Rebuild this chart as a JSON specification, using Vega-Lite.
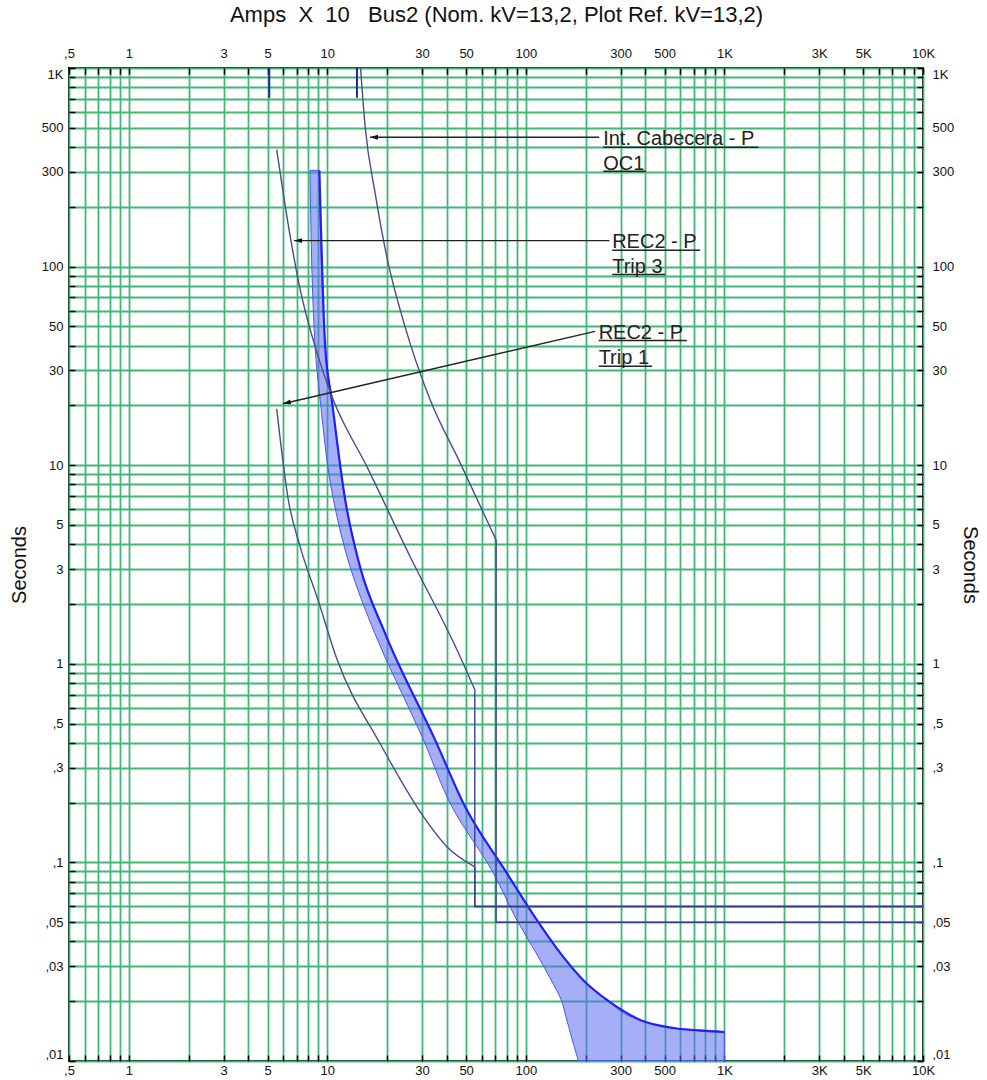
{
  "$schema": "https://vega.github.io/schema/vega-lite/v6.json",
  "width": 854,
  "height": 993,
  "autosize": {"type": "none"},
  "padding": {"left": 69, "top": 68, "right": 64, "bottom": 19},
  "background": "white",
  "config": {"view": {"stroke": "#000", "strokeWidth": 2}, "font": "Liberation Sans"},
  "datasets": {
    "band": [
      {"sec": 305, "lo": 8.18, "hi": 9.12},
      {"sec": 39.7, "lo": 8.67, "hi": 9.75},
      {"sec": 21.4, "lo": 9.2, "hi": 10.53},
      {"sec": 6.7, "lo": 10.73, "hi": 12.3},
      {"sec": 3.09, "lo": 13.0, "hi": 14.6},
      {"sec": 1.43, "lo": 17.3, "hi": 19.5},
      {"sec": 0.414, "lo": 30.5, "hi": 34.9},
      {"sec": 0.191, "lo": 42.4, "hi": 49.4},
      {"sec": 0.0883, "lo": 68.6, "hi": 80.2},
      {"sec": 0.0513, "lo": 90, "hi": 113.5},
      {"sec": 0.035, "lo": 112.6, "hi": 148.8},
      {"sec": 0.0256, "lo": 134, "hi": 194},
      {"sec": 0.0203, "lo": 150.7, "hi": 256},
      {"sec": 0.0161, "lo": 160.7, "hi": 376},
      {"sec": 0.01466, "lo": 165, "hi": 554},
      {"sec": 0.014, "lo": 167, "hi": 1000},
      {"sec": 0.01, "lo": 184, "hi": 1000}
    ],
    "curves": [
      {"series": "OC1", "i": 1, "amps": 14.7, "sec": 1000},
      {"series": "OC1", "i": 2, "amps": 15.5, "sec": 509},
      {"series": "OC1", "i": 3, "amps": 17.4, "sec": 235},
      {"series": "OC1", "i": 4, "amps": 19.9, "sec": 113},
      {"series": "OC1", "i": 5, "amps": 24.6, "sec": 50},
      {"series": "OC1", "i": 6, "amps": 32.9, "sec": 21.4},
      {"series": "OC1", "i": 7, "amps": 46.6, "sec": 10.3},
      {"series": "OC1", "i": 8, "amps": 70.8, "sec": 4.2},
      {"series": "Trip 3", "i": 1, "amps": 5.56, "sec": 388},
      {"series": "Trip 3", "i": 2, "amps": 6.54, "sec": 137},
      {"series": "Trip 3", "i": 3, "amps": 7.29, "sec": 77},
      {"series": "Trip 3", "i": 4, "amps": 8.67, "sec": 39.7},
      {"series": "Trip 3", "i": 5, "amps": 10.7, "sec": 21.4},
      {"series": "Trip 3", "i": 6, "amps": 15.8, "sec": 9.86},
      {"series": "Trip 3", "i": 7, "amps": 26.1, "sec": 3.47},
      {"series": "Trip 3", "i": 8, "amps": 44.9, "sec": 1.18},
      {"series": "Trip 3", "i": 9, "amps": 55.3, "sec": 0.74},
      {"series": "Trip 1", "i": 1, "amps": 5.56, "sec": 19.2},
      {"series": "Trip 1", "i": 2, "amps": 6.36, "sec": 6.7},
      {"series": "Trip 1", "i": 3, "amps": 7.29, "sec": 3.9},
      {"series": "Trip 1", "i": 4, "amps": 8.97, "sec": 2.1},
      {"series": "Trip 1", "i": 5, "amps": 11.2, "sec": 1.05},
      {"series": "Trip 1", "i": 6, "amps": 18.4, "sec": 0.398},
      {"series": "Trip 1", "i": 7, "amps": 30.5, "sec": 0.17},
      {"series": "Trip 1", "i": 8, "amps": 40, "sec": 0.12},
      {"series": "Trip 1", "i": 9, "amps": 55.3, "sec": 0.095}
    ],
    "definite": [
      {"series": "OC1", "i": 1, "amps": 70.8, "sec": 4.2},
      {"series": "OC1", "i": 2, "amps": 70.8, "sec": 0.05},
      {"series": "OC1", "i": 3, "amps": 10000, "sec": 0.05},
      {"series": "Trip 3", "i": 1, "amps": 55.3, "sec": 0.74},
      {"series": "Trip 3", "i": 2, "amps": 55.3, "sec": 0.06},
      {"series": "Trip 3", "i": 3, "amps": 10000, "sec": 0.06},
      {"series": "Trip 1", "i": 1, "amps": 55.3, "sec": 0.095},
      {"series": "Trip 1", "i": 2, "amps": 55.3, "sec": 0.06},
      {"series": "Trip 1", "i": 3, "amps": 10000, "sec": 0.06}
    ],
    "pickups": [
      {"amps": 5.1, "top": 1000, "bot": 708},
      {"amps": 14.1, "top": 1000, "bot": 708}
    ],
    "texts": [
      {"text": "Int. Cabecera - P", "amps": 245, "sec": 409},
      {"text": "OC1", "amps": 245, "sec": 308},
      {"text": "REC2 - P", "amps": 272, "sec": 124},
      {"text": "Trip 3", "amps": 272, "sec": 93.3},
      {"text": "REC2 - P", "amps": 232.5, "sec": 43.4},
      {"text": "Trip 1", "amps": 232.5, "sec": 32.5}
    ],
    "underlines": [
      {"a1": 245, "a2": 1484, "sec": 399},
      {"a1": 245, "a2": 402, "sec": 302},
      {"a1": 272, "a2": 755, "sec": 120.8},
      {"a1": 272, "a2": 503, "sec": 91.2},
      {"a1": 232.5, "a2": 647, "sec": 42.4},
      {"a1": 232.5, "a2": 432, "sec": 31.5}
    ],
    "leaders": [
      {"name": "OC1", "a1": 234, "s1": 448, "a2": 16.4, "s2": 448},
      {"name": "Trip 3", "a1": 263.6, "s1": 135.2, "a2": 6.8, "s2": 135.2},
      {"name": "Trip 1", "a1": 223, "s1": 47.2, "a2": 5.97, "s2": 20.4}
    ]
  },
  "layer": [
    {
      "data": {"name": "band"},
      "mark": {"type": "area", "orient": "horizontal", "interpolate": "monotone", "fill": "#5f6cf2", "fillOpacity": 0.55, "stroke": "#4a55ff", "strokeWidth": 1, "clip": true},
      "encoding": {
        "y": {"field": "sec", "type": "quantitative",
          "scale": {"type": "log", "domain": [0.01, 1000], "nice": false},
          "axis": {"orient": "left", "values": [0.01,0.02,0.03,0.04,0.05,0.06,0.07,0.08,0.09,0.1,0.2,0.3,0.4,0.5,0.6,0.7,0.8,0.9,1,2,3,4,5,6,7,8,9,10,20,30,40,50,60,70,80,90,100,200,300,400,500,600,700,800,900,1000],
            "labelExpr": "indexof([0.01,0.03,0.05,0.1,0.3,0.5,1,3,5,10,30,50,100,300,500,1000], datum.value) < 0 ? '' : datum.value >= 1000 ? (datum.value/1000) + 'K' : datum.value < 1 ? replace(toString(datum.value), '0.', ',') : toString(datum.value)",
            "grid": true, "gridColor": "#40b874", "gridWidth": 1.8, "gridOpacity": 1,
            "domain": false, "ticks": true, "tickSize": -6, "tickColor": "#000", "tickWidth": 1.5,
            "labelFont": "Liberation Sans", "labelFontSize": 13, "labelColor": "#111", "labelPadding": 12,
            "labelOverlap": false, "labelFlush": true, "labelFlushOffset": 0,
            "title": "Seconds", "titleFont": "Liberation Sans", "titleFontSize": 20, "titleFontWeight": "normal", "titleColor": "#111", "titlePadding": 12}},
        "x": {"field": "lo", "type": "quantitative",
          "scale": {"type": "log", "domain": [0.5, 10000], "nice": false},
          "axis": {"orient": "bottom", "values": [0.5,0.6,0.7,0.8,0.9,1,2,3,4,5,6,7,8,9,10,20,30,40,50,60,70,80,90,100,200,300,400,500,600,700,800,900,1000,2000,3000,4000,5000,6000,7000,8000,9000,10000],
            "labelExpr": "indexof([0.5,1,3,5,10,30,50,100,300,500,1000,3000,5000,10000], datum.value) < 0 ? '' : datum.value >= 1000 ? (datum.value/1000) + 'K' : datum.value < 1 ? replace(toString(datum.value), '0.', ',') : toString(datum.value)",
            "grid": true, "gridColor": "#40b874", "gridWidth": 1.8, "gridOpacity": 1,
            "domain": false, "ticks": true, "tickSize": -6, "tickColor": "#000", "tickWidth": 1.5,
            "labelFont": "Liberation Sans", "labelFontSize": 13, "labelColor": "#111", "labelPadding": 9,
            "labelOverlap": false, "labelFlush": false, "title": null}},
        "x2": {"field": "hi"}
      }
    },
    {
      "data": {"name": "band"},
      "transform": [{"filter": "datum.sec > 0.0101"}],
      "mark": {"type": "line", "interpolate": "monotone", "color": "#1f1fff", "strokeWidth": 2.2, "clip": true},
      "encoding": {
        "x": {"field": "hi", "type": "quantitative", "scale": {"type": "log", "domain": [0.5, 10000], "nice": false}, "axis": null},
        "y": {"field": "sec", "type": "quantitative", "scale": {"type": "log", "domain": [0.01, 1000], "nice": false}, "axis": null},
        "order": {"field": "sec", "sort": "descending"}
      }
    },
    {
      "data": {"name": "curves"},
      "mark": {"type": "line", "interpolate": "monotone", "color": "#4b4b8c", "strokeWidth": 1.4, "clip": true},
      "encoding": {
        "x": {"field": "amps", "type": "quantitative", "scale": {"type": "log", "domain": [0.5, 10000], "nice": false},
          "axis": {"orient": "top", "values": [0.5,0.6,0.7,0.8,0.9,1,2,3,4,5,6,7,8,9,10,20,30,40,50,60,70,80,90,100,200,300,400,500,600,700,800,900,1000,2000,3000,4000,5000,6000,7000,8000,9000,10000],
            "labelExpr": "indexof([0.5,1,3,5,10,30,50,100,300,500,1000,3000,5000,10000], datum.value) < 0 ? '' : datum.value >= 1000 ? (datum.value/1000) + 'K' : datum.value < 1 ? replace(toString(datum.value), '0.', ',') : toString(datum.value)",
            "grid": false, "domain": false, "ticks": true, "tickSize": -6, "tickColor": "#000", "tickWidth": 1.5,
            "labelFont": "Liberation Sans", "labelFontSize": 13, "labelColor": "#111", "labelPadding": 14,
            "labelOverlap": false, "labelFlush": false,
            "title": "Amps\u00a0 X\u00a0 10\u00a0\u00a0 Bus2 (Nom. kV=13,2, Plot Ref. kV=13,2)", "titleFont": "Liberation Sans", "titleFontSize": 22, "titleFontWeight": "normal", "titleColor": "#111", "titlePadding": 21}},
        "y": {"field": "sec", "type": "quantitative", "scale": {"type": "log", "domain": [0.01, 1000], "nice": false},
          "axis": {"orient": "right", "values": [0.01,0.02,0.03,0.04,0.05,0.06,0.07,0.08,0.09,0.1,0.2,0.3,0.4,0.5,0.6,0.7,0.8,0.9,1,2,3,4,5,6,7,8,9,10,20,30,40,50,60,70,80,90,100,200,300,400,500,600,700,800,900,1000],
            "labelExpr": "indexof([0.01,0.03,0.05,0.1,0.3,0.5,1,3,5,10,30,50,100,300,500,1000], datum.value) < 0 ? '' : datum.value >= 1000 ? (datum.value/1000) + 'K' : datum.value < 1 ? replace(toString(datum.value), '0.', ',') : toString(datum.value)",
            "grid": false, "domain": false, "ticks": true, "tickSize": -6, "tickColor": "#000", "tickWidth": 1.5,
            "labelFont": "Liberation Sans", "labelFontSize": 13, "labelColor": "#111", "labelPadding": 15,
            "labelOverlap": false, "labelFlush": true, "labelFlushOffset": 0,
            "title": "Seconds", "titleFont": "Liberation Sans", "titleFontSize": 20, "titleFontWeight": "normal", "titleColor": "#111", "titlePadding": 6}},
        "detail": {"field": "series"},
        "order": {"field": "i", "type": "quantitative"}
      }
    },
    {
      "data": {"name": "definite"},
      "mark": {"type": "line", "color": "#34448a", "strokeWidth": 1.4, "clip": true},
      "encoding": {
        "x": {"field": "amps", "type": "quantitative", "scale": {"type": "log", "domain": [0.5, 10000], "nice": false}, "axis": null},
        "y": {"field": "sec", "type": "quantitative", "scale": {"type": "log", "domain": [0.01, 1000], "nice": false}, "axis": null},
        "detail": {"field": "series"},
        "order": {"field": "i", "type": "quantitative"}
      }
    },
    {
      "data": {"name": "pickups"},
      "mark": {"type": "rule", "color": "#1a2a9a", "strokeWidth": 2},
      "encoding": {
        "x": {"field": "amps", "type": "quantitative", "scale": {"type": "log", "domain": [0.5, 10000], "nice": false}, "axis": null},
        "y": {"field": "top", "type": "quantitative", "scale": {"type": "log", "domain": [0.01, 1000], "nice": false}, "axis": null},
        "y2": {"field": "bot"}
      }
    },
    {
      "data": {"name": "leaders"},
      "mark": {"type": "rule", "color": "#222", "strokeWidth": 1.4},
      "encoding": {
        "x": {"field": "a1", "type": "quantitative", "scale": {"type": "log", "domain": [0.5, 10000], "nice": false}, "axis": null},
        "y": {"field": "s1", "type": "quantitative", "scale": {"type": "log", "domain": [0.01, 1000], "nice": false}, "axis": null},
        "x2": {"field": "a2"},
        "y2": {"field": "s2"}
      }
    },
    {
      "data": {"name": "leaders"},
      "transform": [{"filter": "datum.name != 'Trip 1'"}],
      "mark": {"type": "point", "shape": "M 0 0 L 2 -0.6 L 2 0.6 Z", "size": 64, "filled": true, "color": "#111", "opacity": 1},
      "encoding": {
        "x": {"field": "a2", "type": "quantitative", "scale": {"type": "log", "domain": [0.5, 10000], "nice": false}, "axis": null},
        "y": {"field": "s2", "type": "quantitative", "scale": {"type": "log", "domain": [0.01, 1000], "nice": false}, "axis": null}
      }
    },
    {
      "data": {"name": "leaders"},
      "transform": [{"filter": "datum.name == 'Trip 1'"}],
      "mark": {"type": "point", "shape": "M 0 0 L 2 -0.6 L 2 0.6 Z", "size": 64, "filled": true, "color": "#111", "opacity": 1, "angle": -13},
      "encoding": {
        "x": {"field": "a2", "type": "quantitative", "scale": {"type": "log", "domain": [0.5, 10000], "nice": false}, "axis": null},
        "y": {"field": "s2", "type": "quantitative", "scale": {"type": "log", "domain": [0.01, 1000], "nice": false}, "axis": null}
      }
    },
    {
      "data": {"name": "underlines"},
      "mark": {"type": "rule", "color": "#222", "strokeWidth": 1.5},
      "encoding": {
        "x": {"field": "a1", "type": "quantitative", "scale": {"type": "log", "domain": [0.5, 10000], "nice": false}, "axis": null},
        "x2": {"field": "a2"},
        "y": {"field": "sec", "type": "quantitative", "scale": {"type": "log", "domain": [0.01, 1000], "nice": false}, "axis": null}
      }
    },
    {
      "data": {"name": "texts"},
      "mark": {"type": "text", "align": "left", "baseline": "alphabetic", "font": "Liberation Sans", "fontSize": 20, "color": "#222"},
      "encoding": {
        "x": {"field": "amps", "type": "quantitative", "scale": {"type": "log", "domain": [0.5, 10000], "nice": false}, "axis": null},
        "y": {"field": "sec", "type": "quantitative", "scale": {"type": "log", "domain": [0.01, 1000], "nice": false}, "axis": null},
        "text": {"field": "text"}
      }
    }
  ],
  "resolve": {"axis": {"x": "independent", "y": "independent"}}
}
